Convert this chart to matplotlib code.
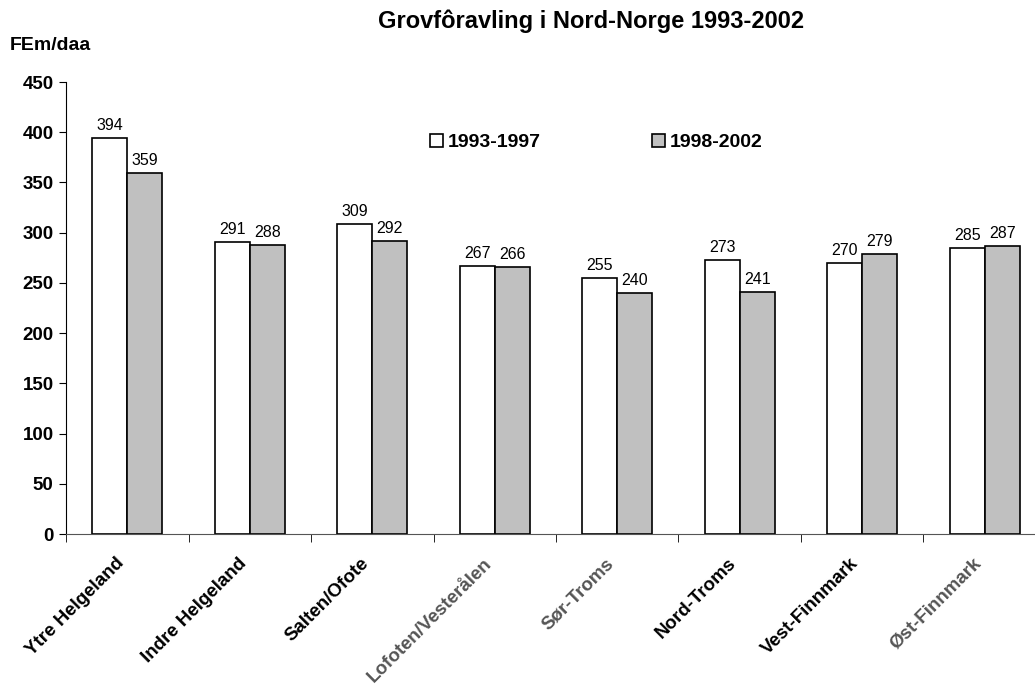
import matplotlib
matplotlib.use("Agg")
import matplotlib.pyplot as plt
import numpy as np
from matplotlib.patches import Patch

plt.rcParams['font.family'] = ['Liberation Sans', 'DejaVu Sans']

regions = ["Ytre Helgeland", "Indre Helgeland", "Salten/Ofote", "Lofoten/Vesterålen",
           "Sør-Troms", "Nord-Troms", "Vest-Finnmark", "Øst-Finnmark"]
label_colors = ["black", "black", "black", "#555555", "#555555", "black", "black", "#555555"]
series_names = ["1993-1997", "1998-2002"]
vals_9397 = [394, 291, 309, 267, 255, 273, 270, 285]
vals_9802 = [359, 288, 292, 266, 240, 241, 279, 287]

fig = plt.figure(figsize=(10.35, 6.87), dpi=100)
ax = fig.add_axes([0.0638, 0.2227, 0.9468, 0.6579])

x = np.arange(len(regions))
w = 0.286
b1 = ax.bar(x - w/2, vals_9397, w, color="white", edgecolor="black", linewidth=1.2)
b2 = ax.bar(x + w/2, vals_9802, w, color="#c0c0c0", edgecolor="black", linewidth=1.2)

for rect, v in zip(b1, vals_9397):
    ax.text(rect.get_x() + rect.get_width()/2, v + 5, str(v), ha="center", va="bottom", fontsize=11.5)
for rect, v in zip(b2, vals_9802):
    ax.text(rect.get_x() + rect.get_width()/2, v + 5, str(v), ha="center", va="bottom", fontsize=11.5)

ax.set_xlim(-0.5, len(regions) - 0.5)
ax.set_ylim(0, 450)
ax.set_yticks(np.arange(0, 451, 50))
ax.tick_params(axis="y", direction="out", length=5, labelsize=13.5, pad=4)
for t in ax.get_yticklabels():
    t.set_fontweight("bold")

ax.set_xticks(x)
ax.set_xticklabels(regions, rotation=45, ha="right", fontsize=13.5, fontweight="bold")
for t, c in zip(ax.get_xticklabels(), label_colors):
    t.set_color(c)
ax.tick_params(axis="x", which="major", length=0, pad=15)
ax.set_xticks(np.arange(-0.5, len(regions) - 0.5, 1), minor=True)
ax.tick_params(axis="x", which="minor", direction="out", length=6)

for s in ["top", "right"]:
    ax.spines[s].set_visible(False)
ax.spines["left"].set_color("black")
ax.spines["bottom"].set_color("#555555")

fig.text(0.571, 0.969, "Grovfôravling i Nord-Norge 1993-2002", ha="center", va="center",
         fontsize=17, fontweight="bold")
fig.text(0.009, 0.934, "FEm/daa", ha="left", va="center", fontsize=14, fontweight="bold")

handles = [Patch(facecolor="white", edgecolor="black", linewidth=1.2),
           Patch(facecolor="#c0c0c0", edgecolor="black", linewidth=1.2)]
leg = fig.legend(handles, series_names, loc="center left", bbox_to_anchor=(0.3986, 0.793),
                 ncol=2, frameon=False, handlelength=0.65, handleheight=0.65,
                 handletextpad=0.25, columnspacing=5.75, prop={"weight": "bold", "size": 14})

fig.savefig("out.png", dpi=100)
